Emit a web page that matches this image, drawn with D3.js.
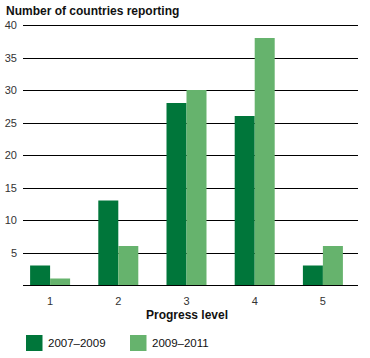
<!DOCTYPE html>
<html><head><meta charset="utf-8">
<script src="https://cdn.jsdelivr.net/npm/d3@7"></script>
<style>body{margin:0;background:#fff}svg{display:block}text{font-family:"Liberation Sans",Arial,sans-serif}</style>
</head><body><svg id="c" width="370" height="358"></svg>
<script>
const categories = ["1","2","3","4","5"];
const seriesNames = ["2007–2009","2009–2011"];
const s2007 = [3,13,28,26,3];
const s2009 = [1,6,30,38,6];
const yTicks = [5,10,15,20,25,30,35,40];
const colors = ["#00763a","#66b36d"];

const svg = d3.select("#c");
const x = d3.scaleBand().domain(categories).range([16,357]).paddingInner(0.4135).paddingOuter(0.4135/2);
const xs = d3.scaleBand().domain([0,1]).range([0,x.bandwidth()]);
const y = d3.scaleLinear().domain([0,40]).range([285,25]);

// grid
svg.append("g").selectAll("line").data([0].concat(yTicks)).join("line")
  .attr("x1",23).attr("x2",358).attr("y1",d=>Math.round(y(d))+0.5).attr("y2",d=>Math.round(y(d))+0.5)
  .attr("stroke","#000").attr("stroke-width",1);

// y labels
svg.append("g").selectAll("text").data(yTicks).join("text")
  .attr("x",17).attr("y",d=>y(d)+4).attr("text-anchor","end")
  .attr("font-size",11).attr("fill","#333").text(d=>d);

const series=[s2007,s2009];
series.forEach((s,i)=>{
  svg.append("g").selectAll("rect").data(s).join("rect")
    .attr("x",(d,j)=>x(categories[j])+xs(i)).attr("width",xs.bandwidth())
    .attr("y",d=>y(d)).attr("height",d=>y(0)-y(d)).attr("fill",colors[i]);
});

// x labels
svg.append("g").selectAll("text").data(categories).join("text")
  .attr("x",d=>x(d)+x.bandwidth()/2).attr("y",305).attr("text-anchor","middle")
  .attr("font-size",11).attr("fill","#333").text(d=>d);

svg.append("text").attr("x",187).attr("y",319).attr("text-anchor","middle")
  .attr("font-size",12).attr("font-weight","bold").attr("fill","#111").text("Progress level");
svg.append("text").attr("x",6).attr("y",15)
  .attr("font-size",12).attr("font-weight","bold").attr("fill","#111").text("Number of countries reporting");

// legend
const lx=[26,130];
seriesNames.forEach((n,i)=>{
  svg.append("rect").attr("x",lx[i]).attr("y",335).attr("width",16.5).attr("height",16).attr("fill",colors[i]);
  svg.append("text").attr("x",lx[i]+22).attr("y",347).attr("font-size",11.5).attr("fill","#111").text(n);
});
</script></body></html>
